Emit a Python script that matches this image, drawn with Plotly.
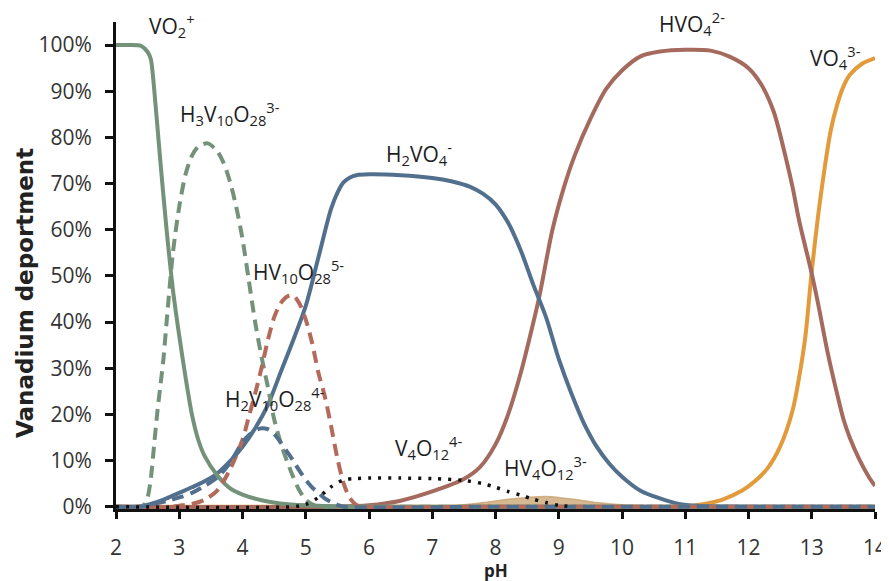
import plotly.graph_objects as go

# ---------------- data ----------------
ph_vo2 = [2.0, 2.2, 2.4, 2.5, 2.55, 2.6, 2.7, 2.8, 2.9, 3.0, 3.1, 3.2, 3.3, 3.4, 3.6, 3.8, 4.0, 4.3, 4.6, 5.0, 5.5, 6.0, 8.0, 10.0, 12.0, 14.0]
vo2 = [100, 100, 99.8, 98.5, 97, 91, 75, 60, 47, 37, 28, 20, 14.5, 11, 6.8, 4, 2.6, 1.4, 0.7, 0.3, 0.1, 0, 0, 0, 0, 0]

ph_h3v10 = [2.0, 2.4, 2.45, 2.5, 2.55, 2.6, 2.65, 2.7, 2.75, 2.8, 2.9, 3.0, 3.1, 3.2, 3.3, 3.45, 3.6, 3.7, 3.8, 3.9, 4.0, 4.1, 4.2, 4.3, 4.4, 4.5, 4.6, 4.7, 4.8, 4.9, 5.0, 5.1, 5.2, 6.0, 8.0, 10.0, 12.0, 14.0]
h3v10 = [0, 0, 0.5, 2, 6, 13, 20, 26, 32, 40, 55, 65, 72, 76, 78, 78.7, 77, 74.5, 70.5, 65, 58, 49, 40, 32.5, 26, 19, 14, 10, 6.5, 3.5, 1.5, 0.5, 0, 0, 0, 0, 0, 0]

ph_hv10 = [2.0, 2.9, 3.0, 3.2, 3.4, 3.6, 3.8, 4.0, 4.1, 4.2, 4.3, 4.4, 4.5, 4.6, 4.7, 4.8, 4.9, 5.0, 5.1, 5.2, 5.3, 5.4, 5.5, 5.6, 5.7, 5.8, 5.9, 8.0, 10.0, 12.0, 14.0]
hv10 = [0, 0, 0.2, 0.6, 1.5, 3.5, 8, 14.5, 19.5, 24.5, 30, 36, 41, 44, 45.5, 45.8, 44, 40.5, 35.5, 29, 24, 17.5, 10.5, 5, 1.8, 0.4, 0, 0, 0, 0, 0]

ph_h2v10 = [2.0, 2.4, 2.6, 2.8, 3.0, 3.2, 3.4, 3.6, 3.8, 4.0, 4.1, 4.2, 4.3, 4.4, 4.5, 4.6, 4.7, 4.8, 4.9, 5.0, 5.1, 5.2, 5.3, 5.4, 5.5, 5.6, 8.0, 10.0, 12.0, 14.0]
h2v10 = [0, 0, 0.6, 1.2, 2, 3, 4.5, 6.3, 9.5, 14, 15.5, 16.5, 17, 16.8, 15.8, 14, 12, 10, 7.8, 5.8, 4.2, 3, 1.8, 1, 0.4, 0, 0, 0, 0, 0]

ph_h2vo4 = [2.0, 2.4, 2.6, 2.8, 3.0, 3.2, 3.4, 3.6, 3.8, 4.0, 4.2, 4.4, 4.6, 4.8, 5.0, 5.2, 5.4, 5.5, 5.6, 5.7, 5.8, 6.0, 6.5, 7.0, 7.3, 7.6, 7.8, 8.0, 8.2, 8.4, 8.6, 8.8, 9.0, 9.2, 9.4, 9.6, 9.8, 10.0, 10.3, 10.6, 10.9, 11.2, 11.6, 12.0, 14.0]
h2vo4 = [0, 0.1, 0.8, 1.8, 3, 4.2, 5.5, 7.2, 9.8, 13, 17, 22, 29, 36, 43.5, 54, 64.5, 68, 70.3, 71.3, 71.8, 72, 71.8, 71.2, 70.5, 69.3, 67.8, 65.5, 61.5, 55.5, 48, 41, 32, 24.5, 18, 13, 9.3, 6.5, 3.4, 1.8, 0.6, 0.2, 0.05, 0, 0]

ph_hvo4 = [2.0, 5.5, 6.0, 6.5, 7.0, 7.5, 7.75, 8.0, 8.2, 8.4, 8.6, 8.7, 8.9, 9.1, 9.25, 9.5, 9.75, 10.0, 10.3, 10.6, 11.0, 11.4, 11.7, 12.0, 12.2, 12.4, 12.6, 12.7, 12.8, 13.0, 13.1, 13.25, 13.4, 13.5, 13.6, 13.75, 13.9, 14.0]
hvo4 = [0, 0, 0.3, 1.3, 3.3, 6, 8.5, 13.5, 20, 29, 40, 46, 60, 70, 76, 84, 90.5, 94.5, 97.6, 98.6, 99, 98.8, 97.5, 95, 91.5, 85.5, 75, 69, 62, 50.5, 44, 33.5, 24.5, 19, 15, 10.3, 6.5, 4.5]

ph_vo4 = [2.0, 6.0, 10.0, 11.0, 11.3, 11.6, 11.9, 12.1, 12.3, 12.5, 12.7, 12.8, 12.9, 13.0, 13.1, 13.2, 13.3, 13.4, 13.5, 13.6, 13.8, 14.0]
vo4 = [0, 0, 0, 0.1, 0.6, 1.6, 3.5, 5.5, 8.3, 13, 21, 28, 37, 51, 63, 73, 81.5, 87, 91, 93.5, 96, 97.2]

ph_v4o12 = [2.0, 4.8, 5.0, 5.2, 5.4, 5.6, 5.8, 6.0, 6.5, 7.0, 7.5, 7.8, 8.0, 8.2, 8.4, 8.6, 8.8, 9.0, 9.2]
v4o12 = [0, 0, 0.5, 2, 4.3, 5.8, 6.1, 6.2, 6.2, 6.1, 5.7, 5.0, 4.2, 3.3, 2.5, 1.6, 0.9, 0.3, 0]

ph_hv4o12 = [2.0, 7.0, 7.4, 7.8, 8.2, 8.6, 8.8, 9.0, 9.3, 9.6, 10.0, 10.4, 10.6, 14.0]
hv4o12 = [0, 0, 0.3, 0.9, 1.6, 2.1, 2.2, 2.0, 1.5, 0.9, 0.4, 0.1, 0, 0]

# species labels (HTML)
labels = ["VO<sub>2</sub><sup>+</sup>", "H<sub>3</sub>V<sub>10</sub>O<sub>28</sub><sup>3-</sup>",
          "H<sub>2</sub>VO<sub>4</sub><sup>-</sup>", "HVO<sub>4</sub><sup>2-</sup>", "VO<sub>4</sub><sup>3-</sup>",
          "HV<sub>10</sub>O<sub>28</sub><sup>5-</sup>", "H<sub>2</sub>V<sub>10</sub>O<sub>28</sub><sup>4-</sup>",
          "V<sub>4</sub>O<sub>12</sub><sup>4-</sup>", "HV<sub>4</sub>O<sub>12</sub><sup>3-</sup>"]

ytick_vals = [0, 10, 20, 30, 40, 50, 60, 70, 80, 90, 100]
ytick_text = [f"{v}%" for v in ytick_vals]

# ---------------- layout / styles ----------------
# label placement, as fractions of the plot area (paper coordinates)
label_px = [0.0744, 0.1496, 0.3992, 0.7589, 0.9473, 0.2404, 0.2095, 0.4117, 0.5665]
label_py = [0.9918, 0.8131, 0.7310, 0.9979, 0.9281, 0.4887, 0.2269, 0.1263, 0.0852]

GREEN = "#739279"
BLUE = "#52708e"
RED = "#b46a5a"
BROWN = "#a56a5e"
ORANGE = "#e39a3a"
TAN = "rgba(200,160,110,0.75)"
DASH = "12px,7px"

fig = go.Figure()

def add(x, y, color, dash="solid", width=4):
    fig.add_trace(go.Scatter(x=x, y=y, mode="lines",
                             line=dict(color=color, width=width, dash=dash, shape="spline", smoothing=0.8),
                             hoverinfo="skip", showlegend=False))

fig.add_trace(go.Scatter(x=ph_hv4o12, y=hv4o12, mode="lines", fill="tozeroy",
                         fillcolor=TAN, line=dict(color=TAN, width=1.5, shape="spline", smoothing=0.8),
                         hoverinfo="skip", showlegend=False))
add(ph_vo4, vo4, ORANGE)
add(ph_hvo4, hvo4, BROWN)
add(ph_h2vo4, h2vo4, BLUE)
add(ph_vo2, vo2, GREEN)
add(ph_h3v10, h3v10, GREEN, DASH)
add(ph_hv10, hv10, RED, DASH)
add(ph_h2v10, h2v10, BLUE, DASH)
add(ph_v4o12, v4o12, "#111111", "3px,7px", 3.5)

for t, xx, yy in zip(labels, label_px, label_py):
    fig.add_annotation(xref="paper", yref="paper", x=xx, y=yy, text=t, showarrow=False,
                       xanchor="center", yanchor="middle",
                       font=dict(family="Open Sans", size=21, color="#1e1e1e"))

# axis titles
fig.add_annotation(xref="paper", yref="paper", x=0.5, y=-0.126, text="<b>pH</b>", showarrow=False,
                   xanchor="center", yanchor="middle", borderpad=0,
                   font=dict(family="Open Sans", size=17, color="#222222"))
fig.add_annotation(xref="paper", yref="paper", x=-0.1199, y=0.4435, text="<b>Vanadium deportment</b>",
                   showarrow=False, textangle=-90, xanchor="center", yanchor="middle",
                   font=dict(family="DejaVu Sans", size=23, color="#222222"))

fig.update_layout(
    width=889, height=581,
    margin=dict(l=108, r=22, t=14, b=80),
    paper_bgcolor="white", plot_bgcolor="white",
    font=dict(family="Open Sans", color="#333333"),
)
fig.update_xaxes(range=[2, 14], dtick=1, tick0=2, showgrid=False, zeroline=False, automargin=False,
                 showline=True, linecolor="#111111", linewidth=3,
                 ticks="outside", ticklen=7, tickwidth=3, tickcolor="#111111",
                 tickfont=dict(family="Open Sans", size=21, color="#333333"),
                 ticklabelstandoff=11)
fig.update_yaxes(range=[-0.5, 105], tickvals=ytick_vals, ticktext=ytick_text, showgrid=False, zeroline=False,
                 automargin=False,
                 showline=True, linecolor="#111111", linewidth=3,
                 ticks="outside", ticklen=8, tickwidth=3, tickcolor="#111111",
                 tickfont=dict(family="Open Sans", size=21, color="#333333"),
                 ticklabelstandoff=9)

fig.write_html("out.html")
